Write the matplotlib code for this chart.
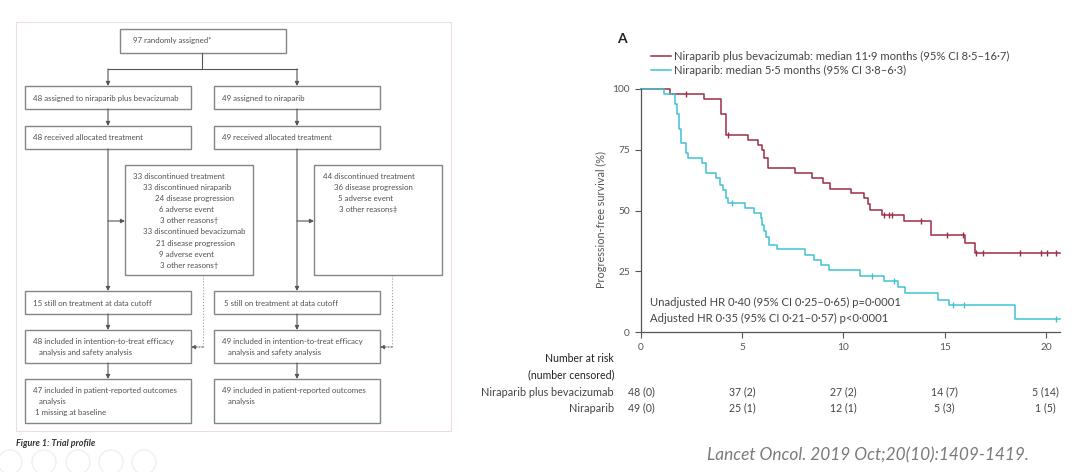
import numpy as np
import matplotlib
matplotlib.use("Agg")
import matplotlib.pyplot as plt
from matplotlib.patches import Rectangle, Circle

plt.rcParams['font.family'] = ['Lato', 'DejaVu Sans']

# ---- KM data (months, % progression-free) ----
combo_times = [0, 1.45, 3.13, 3.94, 4.19, 5.27, 5.8, 5.96, 6.1, 6.25, 7.6, 8.45,
               9.0, 9.35, 10.35, 11.0, 11.2, 11.33, 11.9, 13.0, 14.35, 16.0,
               16.5, 20.7]
combo_surv = [100, 97.9, 95.8, 89.6, 81.2, 79.2, 77.1, 75.0, 71.5, 67.6, 65.5, 63.3,
              61.2, 59.0, 57.0, 55.0, 52.7, 50.2, 48.0, 45.8, 40.0, 36.5,
              32.6, 32.6]
combo_censor = [2.2, 4.3, 12.0, 12.25, 12.4, 13.85, 15.1, 15.9, 16.55, 16.9,
                18.7, 19.74, 20.06, 20.5]

nira_times = [0, 1.15, 1.68, 1.8, 1.88, 2.0, 2.2, 2.34, 3.0, 3.2, 3.69, 3.91,
              4.07, 4.2, 4.29, 5.15, 5.6, 5.94, 6.0, 6.1, 6.19, 6.3, 6.71,
              8.12, 8.53, 8.91, 9.27, 10.84, 12.0, 12.69, 13.03, 14.68, 15.2,
              18.5, 20.7]
nira_surv = [100, 98.0, 93.9, 89.8, 83.7, 77.6, 73.5, 71.4, 69.4, 65.3, 63.3, 60.6,
             58.5, 55.1, 53.1, 51.0, 49.0, 46.9, 44.1, 41.4, 39.2, 35.8, 34.0,
             31.8, 29.7, 27.6, 25.5, 23.2, 21.0, 18.6, 15.9, 13.2, 11.0,
             5.3, 5.3]
nira_censor = [4.49, 11.42, 12.52, 15.42, 15.95, 20.5]

combo_label = "Niraparib plus bevacizumab: median 11·9 months (95% CI 8·5–16·7)"
nira_label = "Niraparib: median 5·5 months (95% CI 3·8–6·3)"

risk_times = [0, 5, 10, 15, 20]
combo_risk = ["48 (0)", "37 (2)", "27 (2)", "14 (7)", "5 (14)"]
nira_risk = ["49 (0)", "25 (1)", "12 (1)", "5 (3)", "1 (5)"]

# ---- flowchart content ----
top_text = ["97 randomly assigned*"]
left_texts = [
    ["48 assigned to niraparib plus bevacizumab"],
    ["48 received allocated treatment"],
    ["15 still on treatment at data cutoff"],
    ["48 included in intention-to-treat efficacy", "   analysis and safety analysis"],
    ["47 included in patient-reported outcomes", "   analysis", " 1 missing at baseline"],
]
right_texts = [
    ["49 assigned to niraparib"],
    ["49 received allocated treatment"],
    [" 5 still on treatment at data cutoff"],
    ["49 included in intention-to-treat efficacy", "   analysis and safety analysis"],
    ["49 included in patient-reported outcomes", "   analysis"],
]
left_disc = [("33 discontinued treatment", 0), ("33 discontinued niraparib", 10),
             ("24 disease progression", 22), ("6 adverse event", 26),
             ("3 other reasons†", 27), ("33 discontinued bevacizumab", 10),
             ("21 disease progression", 23), ("9 adverse event", 26),
             ("3 other reasons†", 27)]
right_disc = [("44 discontinued treatment", 0), ("36 disease progression", 11),
              ("5 adverse event", 15), ("3 other reasons‡", 16)]

RED = '#9b2d45'
CYAN = '#3ec3d3'
W, H = 1080, 472

fig = plt.figure(figsize=(W / 100, H / 100), dpi=100)
bg = fig.add_axes([0, 0, 1, 1])
bg.set_xlim(0, W)
bg.set_ylim(H, 0)
bg.axis('off')

# ---------------- flowchart (pixel coords) ----------------
box_kw = dict(fill=False, edgecolor='#858585', lw=1.0)
txt_kw = dict(fontsize=5.7, color='#505050', va='center', ha='left')
arr_kw = dict(arrowstyle='-|>', lw=0.8, color='#555555', mutation_scale=6,
              shrinkA=0, shrinkB=0)


def box(x0, y0, x1, y1):
    bg.add_patch(Rectangle((x0, y0), x1 - x0, y1 - y0, **box_kw))


def arrow(x0, y0, x1, y1, ls='-'):
    kw = dict(arr_kw)
    kw['linestyle'] = ls
    bg.annotate('', xy=(x1, y1), xytext=(x0, y0), arrowprops=kw)


bg.add_patch(Rectangle((16, 22), 435, 409, fill=False, edgecolor='#ecdde0', lw=0.8))

box(120, 29, 286, 53)
bg.text(133, 41, top_text[0], **txt_kw)
bg.plot([202, 202], [53, 69], color='#555555', lw=0.8)
bg.plot([108, 297], [69, 69], color='#555555', lw=0.8)
arrow(108, 69, 108, 86)
arrow(297, 69, 297, 86)

rows = [(86, 109), (126, 149), (291, 314), (330, 363), (379, 423)]
for (y0, y1), lt, rt in zip(rows, left_texts, right_texts):
    box(25, y0, 191, y1)
    box(214, y0, 380, y1)
    y_first = y0 + 12 if len(lt) == 1 else y0 + 11.5
    for k, s in enumerate(lt):
        bg.text(33, y_first + k * 11, s, **txt_kw)
    for k, s in enumerate(rt):
        bg.text(222, y_first + k * 11, s, **txt_kw)

for (y0, y1), (ny0, ny1) in zip(rows[:-1], rows[1:]):
    if y1 == 149:
        continue
    arrow(108, y1, 108, ny0)
    arrow(297, y1, 297, ny0)
arrow(108, 149, 108, 291)
arrow(297, 149, 297, 291)

box(125, 165, 253, 275)
box(314, 165, 442, 275)
arrow(108, 221, 125, 221)
arrow(297, 221, 314, 221)
for k, (s, dx) in enumerate(left_disc):
    bg.text(133 + dx, 176.5 + k * 11.1, s, **txt_kw)
for k, (s, dx) in enumerate(right_disc):
    bg.text(323 + dx, 176.5 + k * 11.1, s, **txt_kw)

# dotted returns to ITT boxes
bg.plot([203, 203], [275, 347], color='#999999', lw=0.8, ls=':')
arrow(203, 347, 191, 347, ls=':')
bg.plot([392, 392], [275, 347], color='#999999', lw=0.8, ls=':')
arrow(392, 347, 380, 347, ls=':')

bg.text(16, 444, "Figure 1: Trial profile", fontsize=6.5, fontweight='bold',
        style='italic', color='#333333', va='center')

# faint slideshow controls
for cx in [10, 44, 78, 111, 144]:
    bg.add_patch(Circle((cx, 462), 12, fill=False, edgecolor='#f0f0f0', lw=1))

# ---------------- KM panel ----------------
ax = fig.add_axes([641 / W, 1 - 332 / H, (1060 - 641) / W, (332 - 89) / H])
ax.set_xlim(0, 20.7)
ax.set_ylim(0, 100)

l1, = ax.step(combo_times, combo_surv, where='post', color=RED, lw=1.1,
              clip_on=False, label=combo_label)
l2, = ax.step(nira_times, nira_surv, where='post', color=CYAN, lw=1.1,
              clip_on=False, label=nira_label)


def surv_at(times, surv, t):
    i = np.searchsorted(times, t, side='right') - 1
    return np.asarray(surv)[i]


ax.plot(combo_censor, surv_at(combo_times, combo_surv, combo_censor), ls='none',
        marker='|', ms=5, mew=1, color=RED, clip_on=False)
ax.plot(nira_censor, surv_at(nira_times, nira_surv, nira_censor), ls='none',
        marker='|', ms=5, mew=1, color=CYAN, clip_on=False)

for side in ['top', 'right']:
    ax.spines[side].set_visible(False)
for side in ['left', 'bottom']:
    ax.spines[side].set_color('#555555')
    ax.spines[side].set_linewidth(0.9)
ax.set_xticks([0, 5, 10, 15, 20])
ax.set_yticks([0, 25, 50, 75, 100])
ax.tick_params(direction='out', length=4, width=0.8, colors='#555555',
               labelsize=7.3, labelcolor='#555555', pad=4)
ax.patch.set_alpha(0)

fig.text(601 / W, 1 - 220 / H, "Progression-free survival (%)", rotation=90,
         fontsize=7.8, color='#555555', ha='center', va='center')

ax.legend(handles=[l1, l2], loc='upper left', bbox_to_anchor=(651 / W, 1 - 51 / H),
          bbox_transform=fig.transFigure, frameon=False, fontsize=8.15,
          handlelength=1.8, handletextpad=0.25, labelspacing=0.25,
          borderpad=0, borderaxespad=0, labelcolor='#444444')

fig.text(622 / W, 1 - 39 / H, "A", fontsize=10, fontweight='bold', color='#222222',
         ha='center', va='center')

ax.text(0.45, 12.0, "Unadjusted HR 0·40 (95% CI 0·25–0·65) p=0·0001",
        fontsize=8.1, color='#444444', va='center')
ax.text(0.45, 5.5, "Adjusted HR 0·35 (95% CI 0·21–0·57) p<0·0001",
        fontsize=8.1, color='#444444', va='center')

# number at risk table
lab_x = 614 / W
fig.text(lab_x, 1 - 359 / H, "Number at risk", fontsize=7.6, color='#222222',
         ha='right', va='center')
fig.text(lab_x, 1 - 375 / H, "(number censored)", fontsize=7.6, color='#222222',
         ha='right', va='center')
row_y = [392, 408]
for yy, name, vals in zip(row_y, ["Niraparib plus bevacizumab", "Niraparib"],
                          [combo_risk, nira_risk]):
    fig.text(lab_x, 1 - yy / H, name, fontsize=7.8, color='#444444',
             ha='right', va='center')
    for t, v in zip(risk_times, vals):
        ax.annotate(v, xy=(t, 0), xycoords=('data', 'axes fraction'),
                    xytext=(0, -(yy - 332)), textcoords='offset pixels',
                    ha='center', va='center', fontsize=7.6, color='#444444',
                    annotation_clip=False)

fig.text(707 / W, 1 - 455 / H, "Lancet Oncol. 2019 Oct;20(10):1409-1419.",
         fontsize=12.4, style='italic', color='#7a7a7a', ha='left', va='center')

fig.savefig('out.png', dpi=100, facecolor='white')
